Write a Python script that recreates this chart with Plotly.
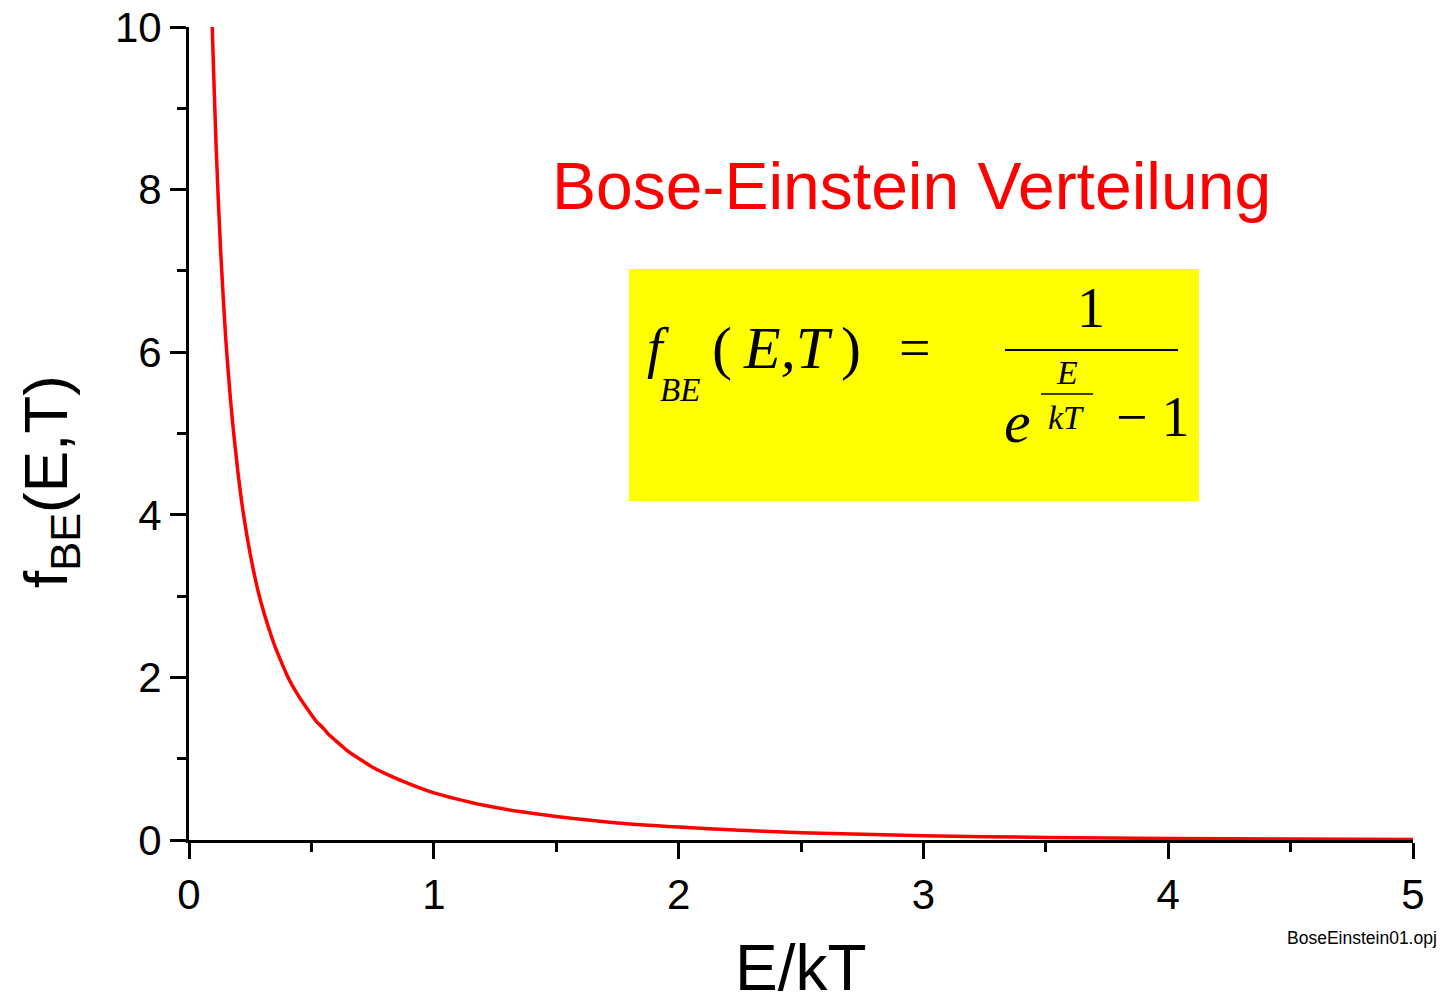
import plotly.graph_objects as go

# Data (E/kT vs f_BE)
e_over_kt = [0.095, 0.10, 0.11, 0.12, 0.13, 0.14, 0.15, 0.16, 0.17, 0.18, 0.20, 0.22, 0.25, 0.28,
             0.30, 0.32, 0.35, 0.37, 0.40, 0.42, 0.45, 0.47, 0.50, 0.52, 0.55, 0.57, 0.60,
             0.65, 0.70, 0.75, 0.80, 0.90, 1.00, 1.10, 1.20, 1.35, 1.50, 1.75, 2.00, 2.25,
             2.50, 3.00, 3.50, 4.00, 4.50, 5.00]
f_be = [10.0, 9.51, 8.60, 7.85, 7.21, 6.67, 6.17, 5.77, 5.40, 5.08, 4.52, 4.06, 3.52, 3.09,
        2.86, 2.66, 2.39, 2.24, 2.03, 1.91, 1.76, 1.67, 1.54, 1.46, 1.37, 1.30, 1.22,
        1.09, 0.99, 0.895, 0.82, 0.69, 0.58, 0.50, 0.43, 0.35, 0.29, 0.21, 0.16, 0.12,
        0.09, 0.052, 0.031, 0.019, 0.011, 0.007]

x_ticks = [0, 1, 2, 3, 4, 5]
y_ticks = [0, 2, 4, 6, 8, 10]

title_text = "Bose-Einstein Verteilung"
x_title = "E/kT"
y_title = "f<sub>BE</sub>(E,T)"
file_tag = "BoseEinstein01.opj"

# plot area in pixels
L, R, T, B = 189, 1413, 27, 840
def px(xp, yp):
    return (xp - L) / (R - L) * 5.0, (B - yp) / (B - T) * 10.0
def pp(xp, yp):
    return (xp - L) / (R - L), (B - yp) / (B - T)

fig = go.Figure()
fig.add_trace(go.Scatter(x=e_over_kt, y=f_be, mode="lines",
                         line=dict(color="#ff0000", width=3.5, shape="spline", smoothing=0.5),
                         showlegend=False, hoverinfo="skip"))

serif = "Liberation Serif, Times New Roman, serif"
sans = "Liberation Sans, Arial, sans-serif"

# yellow formula box
x0, y0 = px(629, 269)
x1, y1 = px(1199, 501)
fig.add_shape(type="rect", x0=x0, y0=y1, x1=x1, y1=y0, fillcolor="#ffff00",
              line=dict(width=0), layer="below")
# fraction lines
a0, ay = px(1005, 350)
a1, _ = px(1178, 350)
fig.add_shape(type="line", x0=a0, x1=a1, y0=ay, y1=ay, line=dict(color="black", width=2))
b0, by = px(1041, 394)
b1, _ = px(1093, 394)
fig.add_shape(type="line", x0=b0, x1=b1, y0=by, y1=by, line=dict(color="black", width=1.5))

def ann(text, xp, yp, size, family=serif, color="black", italic=True, xanchor="center", angle=0):
    x, y = pp(xp, yp)
    t = f"<i>{text}</i>" if italic else text
    fig.add_annotation(xref="paper", yref="paper", x=x, y=y, text=t, showarrow=False,
                       xanchor=xanchor, yanchor="middle", textangle=angle,
                       font=dict(family=family, size=size, color=color))

ann("f", 658, 348, 56)
ann("BE", 680, 390, 33)
ann("(\u2009<i>E,T</i>\u2009)", 786, 348, 60, italic=False)
ann("=", 915, 348, 56, italic=False)
ann("1", 1091, 308, 56, italic=False)
ann("e", 1017, 422, 60)
ann("E", 1067, 372, 34)
ann("kT", 1066, 417, 34)
ann("\u2212 1", 1153, 417, 56, italic=False)

# red title
ann(title_text, 911, 186, 66, family=sans, color="#ff0000", italic=False)

# axis titles
ann(y_title, 50, 482, 62, family=sans, italic=False, angle=-90)
ann(x_title, 801, 968, 64, family=sans, italic=False)

ann(file_tag, 1439, 938, 17.5, family=sans, italic=False, xanchor="right")

axis_common = dict(showline=True, linecolor="black", linewidth=3, ticks="outside",
                   ticklen=16, tickwidth=3, tickcolor="black", showgrid=False, zeroline=False,
                   tickfont=dict(family=sans, size=42, color="black"),
                   mirror=False, automargin=False)

fig.update_xaxes(range=[0, 5], tickvals=x_ticks, ticktext=[str(v) for v in x_ticks],
                 minor=dict(ticks="outside", ticklen=9, tickwidth=3, tickcolor="black", dtick=0.5,
                            tick0=0),
                 **axis_common)
fig.update_yaxes(range=[0, 10], tickvals=y_ticks, ticktext=[str(v) for v in y_ticks],
                 minor=dict(ticks="outside", ticklen=9, tickwidth=3, tickcolor="black", dtick=1,
                            tick0=0),
                 **axis_common)

fig.update_layout(width=1440, height=999, autosize=False,
                  margin=dict(l=L, r=1440 - R, t=T, b=999 - B),
                  plot_bgcolor="white", paper_bgcolor="white")

fig.write_html("out.html")
